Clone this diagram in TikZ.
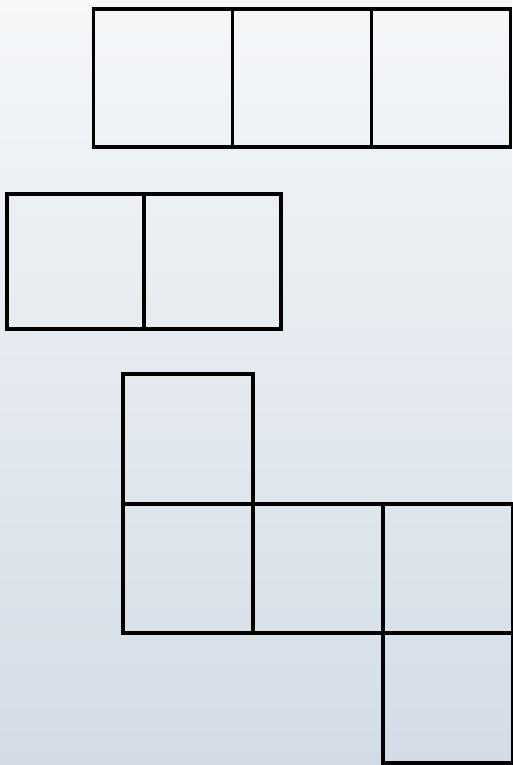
\documentclass[tikz,border=0pt]{standalone}
\usepackage{tikz}
\usetikzlibrary{positioning}
\definecolor{bgtop}{HTML}{F5F7F9}
\definecolor{bgbottom}{HTML}{D3DCE6}
\tikzset{
  cell/.style={draw=black, line width=2.2pt, outer sep=0pt, inner sep=0pt, anchor=north west},
  cellA/.style={cell, minimum width=139*0.02cm, minimum height=138*0.02cm},
  cellB/.style={cell, minimum width=137*0.02cm, minimum height=135*0.02cm},
  cellC/.style={cell, minimum width=130*0.02cm, minimum height=129.7*0.02cm}
}

\begin{document}
\begin{tikzpicture}[x=0.02cm, y=-0.02cm, node distance=0pt]
  \shade[top color=bgtop, bottom color=bgbottom] (0,0) rectangle (512,765);
  \useasboundingbox (0,0) rectangle (512,765);
  % row of three
  \node[cellA] (a1) at (93.5,9) {};
  \node[cellA, right=of a1.north east, anchor=north west] (a2) {};
  \node[cellA, right=of a2.north east, anchor=north west] (a3) {};
  % row of two
  \node[cellB] (b1) at (7,194) {};
  \node[cellB, right=of b1.north east, anchor=north west] (b2) {};
  % five cells
  \node[cellC] (c1) at (122.7,374) {};
  \node[cellC, below=of c1.south west, anchor=north west] (c2) {};
  \node[cellC, right=of c2.north east, anchor=north west] (c3) {};
  \node[cellC, right=of c3.north east, anchor=north west] (c4) {};
  \node[cellC, below=of c4.south west, anchor=north west] (c5) {};
\end{tikzpicture}
\end{document}
